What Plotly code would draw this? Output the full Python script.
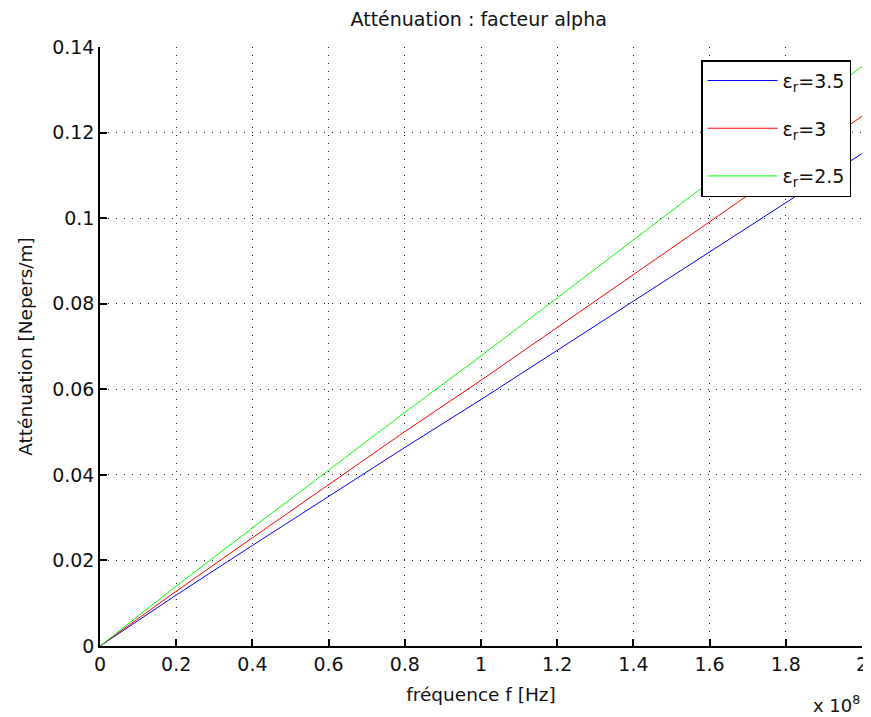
import plotly.graph_objects as go

freq_hz = [0, 0.2e8, 0.4e8, 0.6e8, 0.8e8, 1.0e8, 1.2e8, 1.4e8, 1.6e8, 1.8e8, 2.0e8]
alpha_er35 = [0, 0.0119, 0.0235, 0.0350, 0.0464, 0.0576, 0.0691, 0.0806, 0.0921, 0.1036, 0.1151]
alpha_er3 = [0, 0.0128, 0.0253, 0.0378, 0.0501, 0.0621, 0.0745, 0.0868, 0.0992, 0.1115, 0.1238]
alpha_er25 = [0, 0.0140, 0.0276, 0.0411, 0.0546, 0.0678, 0.0814, 0.0950, 0.1085, 0.1220, 0.1355]

series_names = ["ε<sub>r</sub>=3.5", "ε<sub>r</sub>=3", "ε<sub>r</sub>=2.5"]
series_colors = ["#0000ff", "#ff0000", "#00ff00"]

x_tickvals = [0, 0.2e8, 0.4e8, 0.6e8, 0.8e8, 1.0e8, 1.2e8, 1.4e8, 1.6e8, 1.8e8, 2.0e8]
x_ticktext = ["0", "0.2", "0.4", "0.6", "0.8", "1", "1.2", "1.4", "1.6", "1.8", "2"]
y_tickvals = [0, 0.02, 0.04, 0.06, 0.08, 0.1, 0.12, 0.14]
y_ticktext = ["0", "0.02", "0.04", "0.06", "0.08", "0.1", "0.12", "0.14"]

FONT = "DejaVu Sans"

fig = go.Figure()
for i, (name, vals, col) in enumerate(zip(series_names, [alpha_er35, alpha_er3, alpha_er25], series_colors)):
    fig.add_trace(go.Scatter(x=freq_hz, y=vals, mode="lines", name=name,
                             line=dict(color=col, width=1), legendgroup=f"g{i}"))

axis_common = dict(
    showline=True, linecolor="black", linewidth=1.5, mirror=False,
    ticks="inside", ticklen=7, tickcolor="black", tickwidth=1.5,
    showgrid=True, gridcolor="#222222", gridwidth=1, griddash="1px,7px",
    zeroline=False, automargin=False,
    tickfont=dict(family=FONT, size=19, color="#111111"),
)

# page body has an 8px margin, so the figure is sized/positioned to compensate
fig.update_layout(
    width=863, height=709,
    margin=dict(l=92, r=9, t=39, b=71),
    paper_bgcolor="white", plot_bgcolor="white",
    title=dict(text="Atténuation : facteur alpha", x=0.497, xref="paper", xanchor="center",
               y=1 - 11 / 709, yanchor="middle", yref="container",
               font=dict(family=FONT, size=19, color="#111111")),
    xaxis=dict(range=[0, 2e8], tickvals=x_tickvals, ticktext=x_ticktext,
               title=dict(text="fréquence f [Hz]",
                          font=dict(family=FONT, size=18.5, color="#111111")),
               **axis_common),
    yaxis=dict(range=[0, 0.14], tickvals=y_tickvals, ticktext=y_ticktext,
               title=dict(text="Atténuation [Nepers/m]",
                          font=dict(family=FONT, size=18.5, color="#111111")),
               **axis_common),
    legend=dict(x=0.9856, y=0.978, xanchor="right", yanchor="top",
                bgcolor="white", bordercolor="black", borderwidth=1.5,
                font=dict(family=FONT, size=19, color="#111111"),
                tracegroupgap=20, itemwidth=70, entrywidth=92, entrywidthmode="pixels"),
    showlegend=True,
)

fig.add_annotation(text="x 10<sup>8</sup>", xref="paper", yref="paper",
                   x=1.0, y=-0.074, xanchor="right", yanchor="top", showarrow=False,
                   font=dict(family=FONT, size=18, color="#111111"))

fig.write_html("out.html")
